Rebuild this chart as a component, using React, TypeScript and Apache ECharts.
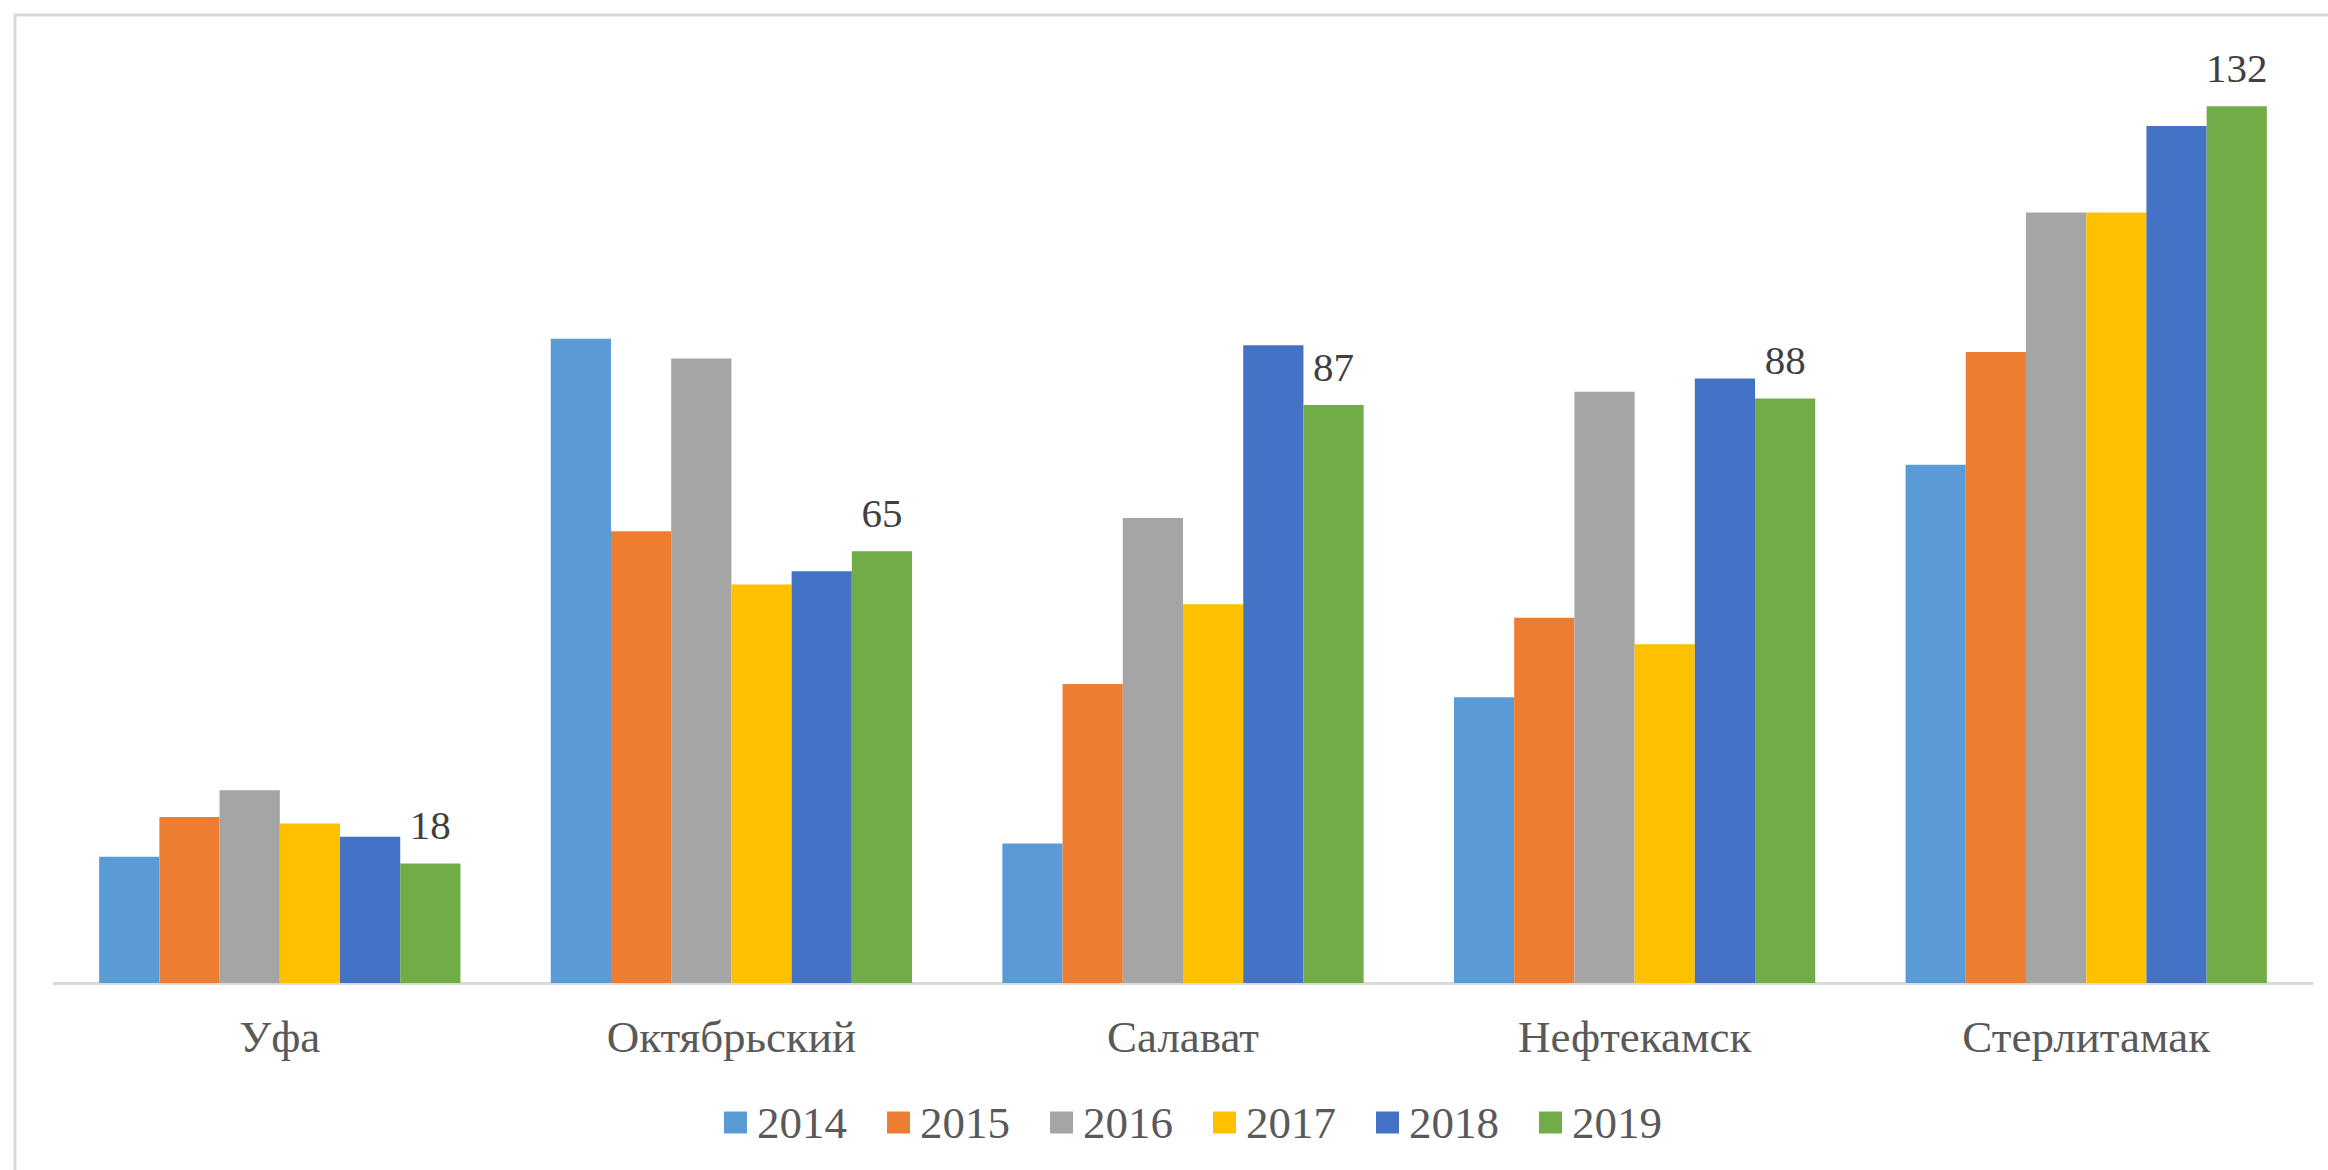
import React, { useEffect, useRef } from "react";
import * as echarts from "echarts";

const categories = ["Уфа", "Октябрьский", "Салават", "Нефтекамск", "Стерлитамак"];
const years = ["2014", "2015", "2016", "2017", "2018", "2019"];
const colors = ["#5B9BD5", "#ED7D31", "#A5A5A5", "#FFC000", "#4472C4", "#70AD47"];

const v2014 = [19, 97, 21, 43, 78];
const v2015 = [25, 68, 45, 55, 95];
const v2016 = [29, 94, 70, 89, 116];
const v2017 = [24, 60, 57, 51, 116];
const v2018 = [22, 62, 96, 91, 129];
const v2019 = [18, 65, 87, 88, 132];

const seriesValues = [v2014, v2015, v2016, v2017, v2018, v2019];

const FONT = "Liberation Serif";

export default function App() {
  const ref = useRef<HTMLDivElement>(null);
  useEffect(() => {
    document.body.style.margin = "0";
    const chart = echarts.init(ref.current!, null, { renderer: "svg" });
    chart.setOption({
      animation: false,
      backgroundColor: "#ffffff",
      color: colors,
      textStyle: { fontFamily: FONT },
      grid: { left: 54, right: 16, top: 53, bottom: 187, containLabel: false },
      xAxis: {
        type: "category",
        data: categories,
        axisTick: { show: false },
        axisLine: { show: true, lineStyle: { color: "#D9D9D9", width: 3 } },
        axisLabel: {
          color: "#595959",
          fontFamily: FONT,
          fontSize: 45,
          margin: 31,
        },
      },
      yAxis: {
        type: "value",
        min: 0,
        max: 140,
        show: false,
        splitLine: { show: false },
      },
      legend: {
        left: 719,
        top: 1095,
        itemWidth: 23,
        itemHeight: 22,
        itemGap: 40,
        icon: "rect",
        textStyle: {
          color: "#595959",
          fontFamily: FONT,
          fontSize: 45,
          padding: [0, 0, 0, 5],
        },
        data: years,
      },
      graphic: [
        {
          type: "rect",
          shape: { x: 15, y: 15, width: 2400, height: 1300 },
          style: { fill: "none", stroke: "#D9D9D9", lineWidth: 3 },
          silent: true,
          z: -1,
        },
      ],
      series: years.map((y, i) => ({
        name: y,
        type: "bar",
        data: seriesValues[i],
        barGap: "0%",
        barCategoryGap: "20%",
        itemStyle: { color: colors[i] },
        label:
          i === 5
            ? {
                show: true,
                position: "top",
                distance: 18,
                color: "#404040",
                fontFamily: FONT,
                fontSize: 41,
              }
            : { show: false },
      })),
    });
    return () => chart.dispose();
  }, []);
  return <div ref={ref} style={{ width: 2328, height: 1170 }} />;
}
